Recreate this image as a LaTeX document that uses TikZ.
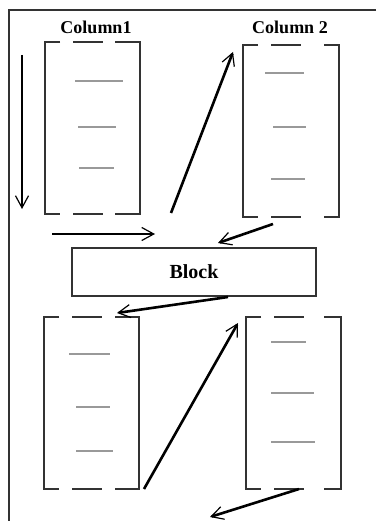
\documentclass[tikz,border=0pt]{standalone}
\usepackage{fontspec}
\setmainfont{Liberation Serif}
\usetikzlibrary{calc,arrows.meta}
\tikzset{
  frame/.style={line width=1.8pt, draw=black!80},
  grayline/.style={line width=1.5pt, draw=black!40},
  arr/.style={line width=2.6pt, -{Straight Barb[length=12pt,width=13pt,line width=1.2pt]}},
  title/.style={font=\bfseries\fontsize{18}{18}\selectfont},
  colbox/.style={inner sep=0pt, outer sep=0pt, minimum height=172pt},
}
\newcommand\colframe[2]{%
  \draw[frame] ($(#1.north west)+(15,0)$) -- (#1.north west) -- (#1.south west) -- ++(15,0);
  \draw[frame] ($(#1.north east)+(-#2,0)$) -- (#1.north east) -- (#1.south east) -- ++(-#2,0);
  \draw[frame] ($(#1.north west)+(28,0)$) -- ++(30,0);
  \draw[frame] ($(#1.south west)+(28,0)$) -- ++(30,0);
}
\begin{document}
\begin{tikzpicture}[x=1pt,y=-1pt]
\useasboundingbox[fill=white] (0,0) rectangle (376,521);
% outer frame (top and left)
\draw[frame] (376,10) -- (9,10) -- (9,521);
% titles
\node[title] (t1) at (96,27) {Column1};
\node[title] (t2) at (290,27) {Column 2};
% column boxes
\node[colbox, minimum width=95pt] (c1) at (92.5,128) {};
\node[colbox, minimum width=96pt] (c2) at (291,131) {};
\node[colbox, minimum width=95pt] (c3) at (91.5,403) {};
\node[colbox, minimum width=95pt] (c4) at (293.5,403) {};
\colframe{c1}{25}
\colframe{c2}{15}
\colframe{c3}{24}
\colframe{c4}{17}
% block
\node[frame, draw, minimum width=244pt, minimum height=48pt, inner sep=0pt, font=\bfseries\fontsize{20}{20}\selectfont] (blk) at (194,272) {Block};
% gray lines
\draw[grayline] (75,81) -- (123,81);
\draw[grayline] (78,127) -- (116,127);
\draw[grayline] (79,168) -- (114,168);
\draw[grayline] (265,73) -- (304,73);
\draw[grayline] (273,127) -- (306,127);
\draw[grayline] (271,179) -- (305,179);
\draw[grayline] (69,354) -- (110,354);
\draw[grayline] (76,407) -- (110,407);
\draw[grayline] (76,451) -- (113,451);
\draw[grayline] (271,342) -- (306,342);
\draw[grayline] (271,393) -- (314,393);
\draw[grayline] (271,442) -- (315,442);
% arrow end points
\coordinate (a1s) at (22,55);   \coordinate (a1e) at (22,209);
\coordinate (a2s) at (52,234);  \coordinate (a2e) at (155,234);
\coordinate (a3s) at (171,213); \coordinate (a3e) at (233,52);
\coordinate (a4s) at (273,224); \coordinate (a4e) at (218,243);
\coordinate (a5s) at (228,297); \coordinate (a5e) at (117,313);
\coordinate (a6s) at (144,489); \coordinate (a6e) at (238,323);
\coordinate (a7s) at (299,489); \coordinate (a7e) at (210,517);
\draw[arr] (a1s) -- (a1e);
\draw[arr] (a2s) -- (a2e);
\draw[arr] (a3s) -- (a3e);
\draw[arr] (a4s) -- (a4e);
\draw[arr] (a5s) -- (a5e);
\draw[arr] (a6s) -- (a6e);
\draw[arr] (a7s) -- (a7e);
\end{tikzpicture}
\end{document}
